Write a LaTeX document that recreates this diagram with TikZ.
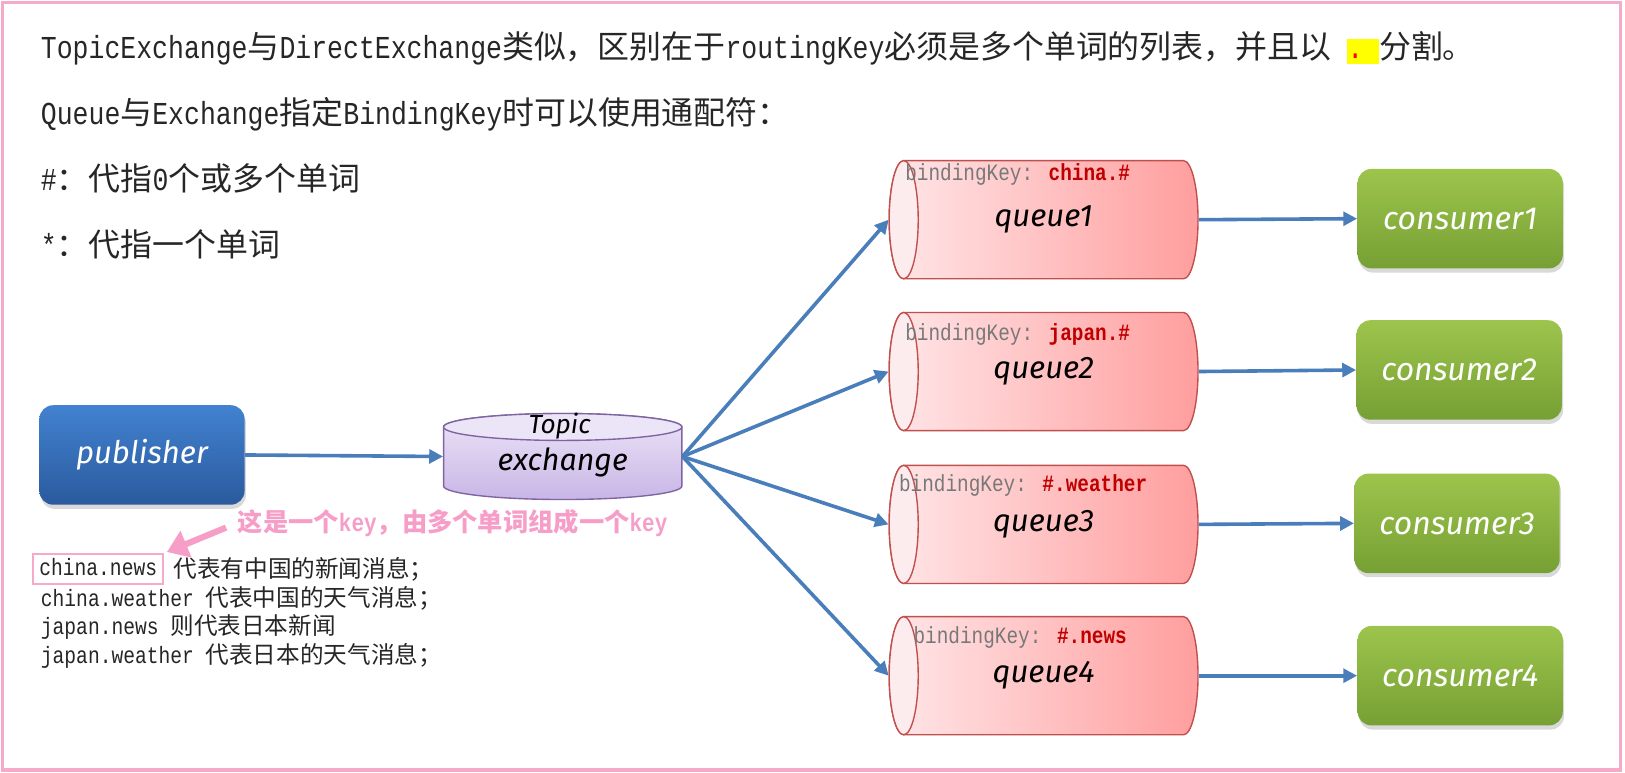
\documentclass[tikz,border=0pt]{standalone}
\usepackage{fontspec}
\setmainfont{Liberation Mono}[FakeStretch=0.83]
\newfontfamily\zhfont{Noto Sans CJK SC}
\newfontfamily\handfont{Fira Sans}
\newcommand{\zh}[1]{{\zhfont #1}}
\usetikzlibrary{arrows.meta,shadows}
\setlength{\fboxsep}{0pt}

\definecolor{framepink}{RGB}{244,170,200}
\definecolor{notepink}{RGB}{246,158,200}
\definecolor{flowblue}{RGB}{74,126,187}
\definecolor{pubtop}{RGB}{66,130,208}
\definecolor{pubbottom}{RGB}{42,90,158}
\definecolor{contop}{RGB}{157,196,76}
\definecolor{conbottom}{RGB}{118,160,52}
\definecolor{qleft}{RGB}{255,230,232}
\definecolor{qright}{RGB}{255,158,158}
\definecolor{qfacecol}{RGB}{253,236,238}
\definecolor{qborder}{RGB}{192,80,77}
\definecolor{extop}{RGB}{236,228,247}
\definecolor{exbottom}{RGB}{200,182,230}
\definecolor{exborder}{RGB}{128,100,162}
\definecolor{keygray}{RGB}{120,120,120}
\definecolor{keyred}{RGB}{192,0,0}
\definecolor{hlyellow}{RGB}{255,255,0}
\definecolor{textdark}{RGB}{38,38,38}

\tikzset{every picture/.style={line width=0.75pt}}
\tikzset{
  topline/.style={anchor=west, inner sep=0.75pt, text=textdark, font=\fontsize{23.1}{27}\selectfont},
  noteline/.style={anchor=west, inner sep=0.75pt, text=textdark, font=\fontsize{17.1}{21}\selectfont},
  keybox/.style={noteline, draw=framepink, line width=1.5pt, inner xsep=4.5pt, inner ysep=3pt, text height=12.5pt, text depth=3pt},
  keylabel/.style={anchor=west, inner sep=0.75pt, text=keygray, font=\fontsize{16.9}{21}\selectfont},
  note/.style={anchor=west, inner sep=0.75pt, text=notepink, font=\bfseries\fontsize{18.3}{22}\selectfont},
  hand/.style={font=\handfont\itshape\fontsize{22.5}{27}\selectfont},
  pubbox/.style={hand, text=white, rounded corners=10pt, minimum width=148.5pt, minimum height=72pt, top color=pubtop, bottom color=pubbottom, drop shadow={opacity=0.3, shadow xshift=1pt, shadow yshift=-3pt}},
  conbox/.style={hand, font=\handfont\itshape\fontsize{23.1}{27}\selectfont, text=white, rounded corners=10pt, minimum width=148.5pt, minimum height=72pt, top color=contop, bottom color=conbottom, drop shadow={opacity=0.3, shadow xshift=1pt, shadow yshift=-3pt}},
  qbox/.style={hand, text=black, inner sep=0pt, minimum width=223.5pt, minimum height=85.5pt},
  exbox/.style={inner sep=0pt, minimum width=172.5pt, minimum height=62.25pt},
  qshape/.style={draw=qborder, line width=1pt, left color=qleft, right color=qright},
  qend/.style={draw=qborder, line width=1pt, fill=qfacecol},
  exshape/.style={draw=exborder, line width=1pt, top color=extop, bottom color=exbottom},
  flow/.style={draw=flowblue, line width=2.6pt, -{Triangle[length=10pt,width=10pt]}},
  notearrow/.style={draw=notepink, line width=4.5pt, -{Triangle[length=15pt,width=20pt]}, shorten <=8pt, shorten >=2pt},
}

\begin{document}
\begin{tikzpicture}[x=0.75pt,y=0.75pt,yscale=-1,xscale=1]
\useasboundingbox (0,0) rectangle (1568,745);

%Frame
\draw [draw=framepink, line width=2.25pt] (2,2) rectangle (1564,743);

%Shape: Can [id:queue1]
\draw [qshape] (872,155) -- (1142,155) arc [start angle=-90, end angle=90, x radius=14, y radius=57] -- (872,269) arc [start angle=90, end angle=270, x radius=14, y radius=57] -- cycle;
\draw [qend] (872,212) ellipse [x radius=14, y radius=57];
%Shape: Can [id:queue2]
\draw [qshape] (872,301.5) -- (1142,301.5) arc [start angle=-90, end angle=90, x radius=14, y radius=57] -- (872,415.5) arc [start angle=90, end angle=270, x radius=14, y radius=57] -- cycle;
\draw [qend] (872,358.5) ellipse [x radius=14, y radius=57];
%Shape: Can [id:queue3]
\draw [qshape] (872,449) -- (1142,449) arc [start angle=-90, end angle=90, x radius=14, y radius=57] -- (872,563) arc [start angle=90, end angle=270, x radius=14, y radius=57] -- cycle;
\draw [qend] (872,506) ellipse [x radius=14, y radius=57];
%Shape: Can [id:queue4]
\draw [qshape] (872,595) -- (1142,595) arc [start angle=-90, end angle=90, x radius=14, y radius=57] -- (872,709) arc [start angle=90, end angle=270, x radius=14, y radius=57] -- cycle;
\draw [qend] (872,652) ellipse [x radius=14, y radius=57];

%Shape: Can [id:exchange]
\draw [exshape] (428,412) -- (428,469) arc [start angle=180, end angle=0, x radius=115, y radius=13] -- (658,412) arc [start angle=0, end angle=-180, x radius=115, y radius=13] -- cycle;
\draw [draw=exborder, line width=1pt, fill=extop] (543,412) ellipse [x radius=115, y radius=13];

% Text Node
\node [topline] (intro) at (38,47) {TopicExchange\zh{与}DirectExchange\zh{类似，区别在于}routingKey\zh{必须是多个单词的列表，并且以} \colorbox{hlyellow}{\rule[-0.15em]{0pt}{0.78em}\textcolor{red}{.}\ }\zh{分割。}};
% Text Node
\node [topline] (wild) at (38,110) {Queue\zh{与}Exchange\zh{指定}BindingKey\zh{时可以使用通配符：}};
% Text Node
\node [topline] (hash) at (38,172) {\#\zh{：代指}0\zh{个或多个单词}};
% Text Node
\node [topline] (star) at (38,236) {*\zh{：代指一个单词}};

% Rounded Rect
\node [pubbox] (pub) at (137,439) {publisher};
% Exchange
\node [exbox] (ex) at (543,440.5) {};
\node [hand, font=\handfont\itshape\fontsize{19}{22}\selectfont] (topic) at (540,411) {Topic};
\node [hand, font=\handfont\itshape\fontsize{22}{26}\selectfont] (exname) at (543,446) {exchange};

% Queues
\node [qbox] (q1) at (1007,212) {queue1};
\node [qbox] (q2) at (1007,358.5) {queue2};
\node [qbox] (q3) at (1007,506) {queue3};
\node [qbox] (q4) at (1007,652) {queue4};
\node [keylabel] (k1) at (872,168) {bindingKey: \textcolor{keyred}{\bfseries china.\#}};
\node [keylabel] (k2) at (872,323) {bindingKey: \textcolor{keyred}{\bfseries japan.\#}};
\node [keylabel] (k3) at (866,468) {bindingKey: \textcolor{keyred}{\bfseries \#.weather}};
\node [keylabel] (k4) at (880,615) {bindingKey: \textcolor{keyred}{\bfseries \#.news}};

% Consumers
\node [conbox] (c1) at (1409,211) {consumer1};
\node [conbox] (c2) at (1408,357) {consumer2};
\node [conbox] (c3) at (1406,505) {consumer3};
\node [conbox] (c4) at (1409,652) {consumer4};

% Routing key notes
\node [note] (keynote) at (228,505) {\zh{这是一个}key\zh{，由多个单词组成一个}key};
\node [keybox] (cn) at (31,549) {china.news};
\node [noteline] (cnt) at (166,549) {\zh{代表有中国的新闻消息；}};
\node [noteline] (cw) at (38,577) {china.weather \zh{代表中国的天气消息；}};
\node [noteline] (jn) at (38,605) {japan.news \zh{则代表日本新闻}};
\node [noteline] (jw) at (38,633) {japan.weather \zh{代表日本的天气消息；}};

%Straight Lines
\draw [flow] (pub.east) -- (ex.west);
\draw [flow] (ex.east) -- (q1.west);
\draw [flow] (ex.east) -- (q2.west);
\draw [flow] (ex.east) -- (q3.west);
\draw [flow] (ex.east) -- (q4.west);
\draw [flow] (q1.east) -- (c1.west);
\draw [flow] (q2.east) -- (c2.west);
\draw [flow] (q3.east) -- (c3.west);
\draw [flow] (q4.east) -- (c4.west);
\draw [notearrow] (keynote.west) -- (cn.north east);

\end{tikzpicture}
\end{document}
